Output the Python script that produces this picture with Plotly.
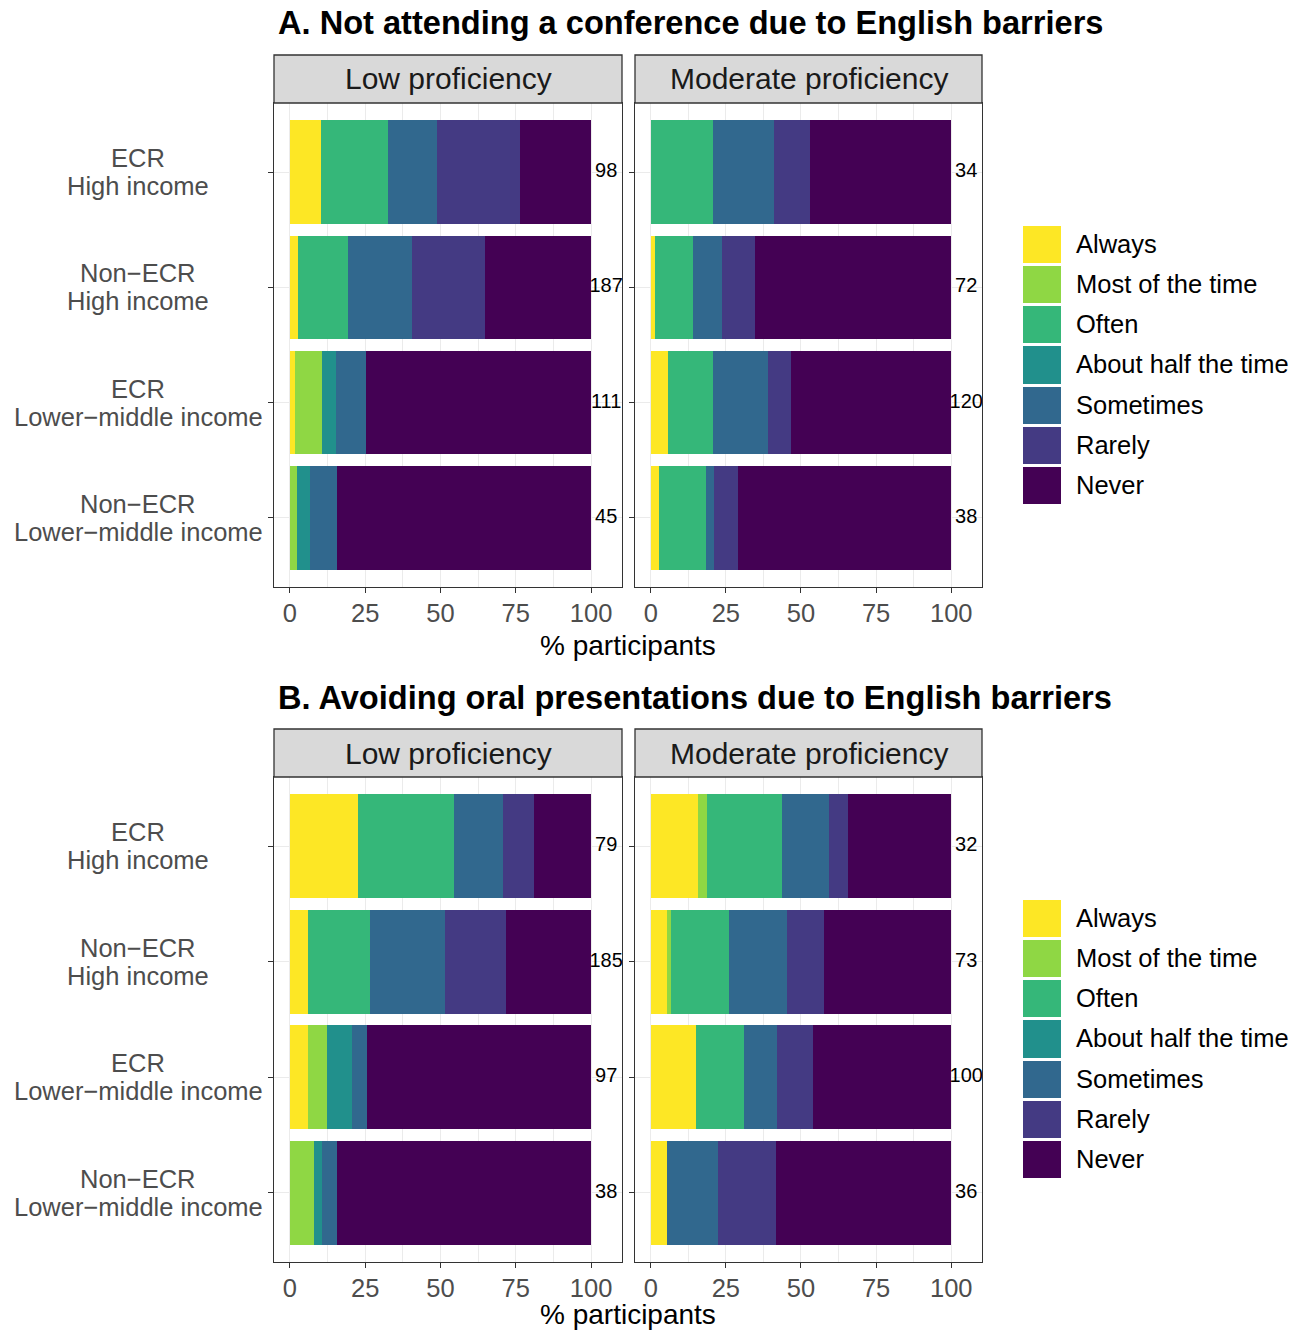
import plotly.graph_objects as go

W, H = 1306, 1331
FONT = "Liberation Sans"

# Response scale (left to right in each stacked bar) and viridis fills
levels = ["Always", "Most of the time", "Often", "About half the time",
          "Sometimes", "Rarely", "Never"]
level_colors = ["#FDE725", "#8FD744", "#35B779", "#21908C",
                "#31688E", "#443A83", "#440154"]

# Participant groups, top to bottom: (career stage, country income)
groups = [("ECR", "High income"),
          ("Non\u2212ECR", "High income"),
          ("ECR", "Lower\u2212middle income"),
          ("Non\u2212ECR", "Lower\u2212middle income")]
group_ids = [f"{a}|{b}" for a, b in groups]

facets = ["Low proficiency", "Moderate proficiency"]
titles = ["A. Not attending a conference due to English barriers",
          "B. Avoiding oral presentations due to English barriers"]

# Counts of answers per group (columns follow `levels`)
conf_low = [[10, 0, 22, 0, 16, 27, 23],
            [5, 0, 31, 0, 40, 45, 66],
            [2, 10, 0, 5, 11, 0, 83],
            [0, 1, 0, 2, 4, 0, 38]]
conf_mod = [[0, 0, 7, 0, 7, 4, 16],
            [1, 0, 9, 0, 7, 8, 47],
            [7, 0, 18, 0, 22, 9, 64],
            [1, 0, 6, 0, 1, 3, 27]]
oral_low = [[18, 0, 25, 0, 13, 8, 15],
            [11, 0, 38, 0, 46, 38, 52],
            [6, 6, 0, 8, 5, 0, 72],
            [0, 3, 0, 1, 2, 0, 32]]
oral_mod = [[5, 1, 8, 0, 5, 2, 11],
            [4, 1, 14, 0, 14, 9, 31],
            [15, 0, 16, 0, 11, 12, 46],
            [2, 0, 0, 0, 6, 7, 21]]

x_ticks = [0, 25, 50, 75, 100]
n_label_x = 105

# ---- page geometry (pixels) ----
col_px = [(274, 622), (635, 982)]
row_strip_top = [55, 729]
row_panel_top = [103, 777]
row_panel_bot = [587, 1262]
row_title_y = [23, 697]
row_xtitle_y = [645, 1314]
legend_x = (1023, 1061)
legend_y = [(223.5, 505.5), (897.5, 1179.5)]
ylab_x = 138


def fx(p):
    return p / W


def fy(p):
    return 1 - p / H


fig = go.Figure()

panels = [(0, 0, conf_low), (0, 1, conf_mod), (1, 0, oral_low), (1, 1, oral_mod)]
layout_axes = {}
annotations = []
shapes = []

for k, (r, c, counts) in enumerate(panels):
    idx = k + 1
    xa = "x" if idx == 1 else f"x{idx}"
    ya = "y" if idx == 1 else f"y{idx}"
    totals = [sum(row) for row in counts]
    for j, lev in enumerate(levels):
        pct = [counts[g][j] / totals[g] * 100 for g in range(len(groups))]
        fig.add_trace(go.Bar(
            x=pct, y=group_ids, orientation="h", width=0.9,
            marker=dict(color=level_colors[j], line=dict(width=0)),
            name=lev, showlegend=False, xaxis=xa, yaxis=ya,
            hovertemplate=lev + ": %{x:.1f}%<extra></extra>"))
    fig.add_trace(go.Scatter(
        x=[n_label_x] * len(groups), y=group_ids, mode="text",
        text=[str(t) for t in totals], textposition="middle center",
        textfont=dict(size=20, color="black", family=FONT),
        cliponaxis=False, showlegend=False, hoverinfo="skip",
        xaxis=xa, yaxis=ya))

    x0, x1 = col_px[c]
    top, bot = row_panel_top[r], row_panel_bot[r]
    key = "xaxis" if idx == 1 else f"xaxis{idx}"
    ykey = "yaxis" if idx == 1 else f"yaxis{idx}"
    layout_axes[key] = dict(
        domain=[fx(x0), fx(x1)], anchor=ya, range=[-5.25, 110.25],
        tickmode="array", tickvals=x_ticks, ticks="outside", ticklen=5,
        tickwidth=1.3, tickcolor="#333333", ticklabelstandoff=-2,
        tickfont=dict(size=25.5, color="#4D4D4D", family=FONT),
        showgrid=True, gridcolor="#EBEBEB", gridwidth=1.3,
        minor=dict(tickmode="array", tickvals=[12.5, 37.5, 62.5, 87.5],
                   showgrid=True, gridcolor="#EBEBEB", gridwidth=0.7, ticks=""),
        showline=True, mirror=True, linecolor="#333333", linewidth=1.3,
        zeroline=False, fixedrange=True)
    layout_axes[ykey] = dict(
        domain=[fy(bot), fy(top)], anchor=xa, type="category",
        categoryorder="array", categoryarray=group_ids, range=[3.6, -0.6],
        ticks="outside", ticklen=5, tickwidth=1.3, tickcolor="#333333",
        showticklabels=False, showgrid=True, gridcolor="#EBEBEB",
        gridwidth=1.3, showline=True, mirror=True, linecolor="#333333",
        linewidth=1.3, zeroline=False, fixedrange=True)

    # facet strip
    strip_h = (top - row_strip_top[r]) / (bot - top)
    shapes.append(dict(type="rect", xref=f"{xa} domain", yref=f"{ya} domain",
                       x0=0, x1=1, y0=1, y1=1 + strip_h,
                       fillcolor="#D9D9D9",
                       line=dict(color="#333333", width=1.3), layer="above"))
    annotations.append(dict(text=facets[c], xref=f"{xa} domain",
                            yref=f"{ya} domain", x=0.5, y=1 + strip_h / 2,
                            showarrow=False, xanchor="center", yanchor="middle",
                            font=dict(size=30, color="#1A1A1A", family=FONT)))

    # group labels on the left of each row
    if c == 0:
        for gid, (l1, l2) in zip(group_ids, groups):
            for line, shift in ((l1, 14), (l2, -14)):
                annotations.append(dict(
                    text=line, xref="paper", x=fx(ylab_x), yref=ya, y=gid,
                    yshift=shift, showarrow=False, xanchor="center",
                    yanchor="middle", align="center",
                    font=dict(size=25.5, color="#4D4D4D", family=FONT)))

# titles and shared x-axis titles
for r in range(2):
    annotations.append(dict(
        text=f"<b>{titles[r]}</b>", xref="paper", yref="paper",
        x=fx(276), y=fy(row_title_y[r]), xanchor="left", yanchor="middle",
        showarrow=False, font=dict(size=32.6, color="black", family=FONT)))
    annotations.append(dict(
        text="% participants", xref="paper", yref="paper",
        x=fx((col_px[0][0] + col_px[1][1]) / 2), y=fy(row_xtitle_y[r]),
        xanchor="center", yanchor="middle", showarrow=False,
        font=dict(size=28, color="black", family=FONT)))

# legend keys: one key column per row of panels
for r in range(2):
    idx = 5 + r
    xa, ya = f"x{idx}", f"y{idx}"
    fig.add_trace(go.Bar(
        x=[1] * len(levels), y=levels, orientation="h", width=0.92,
        marker=dict(color=level_colors, line=dict(width=0)),
        showlegend=False, hoverinfo="skip", xaxis=xa, yaxis=ya))
    ly0, ly1 = legend_y[r]
    layout_axes[f"xaxis{idx}"] = dict(
        domain=[fx(legend_x[0]), fx(legend_x[1])], anchor=ya, range=[0, 1],
        showgrid=False, zeroline=False, showline=False, showticklabels=False,
        ticks="", fixedrange=True)
    layout_axes[f"yaxis{idx}"] = dict(
        domain=[fy(ly1), fy(ly0)], anchor=xa, type="category",
        categoryorder="array", categoryarray=levels,
        range=[len(levels) - 0.5, -0.5], side="right",
        showgrid=False, zeroline=False, showline=False, ticks="",
        ticklabelstandoff=14,
        tickfont=dict(size=25.5, color="black", family=FONT), fixedrange=True)

fig.update_layout(
    width=W, height=H, margin=dict(l=0, r=0, t=0, b=0),
    paper_bgcolor="white", plot_bgcolor="white", barmode="stack",
    bargap=0, showlegend=False, font=dict(family=FONT),
    annotations=annotations, shapes=shapes, **layout_axes)

fig.write_html("out.html")
